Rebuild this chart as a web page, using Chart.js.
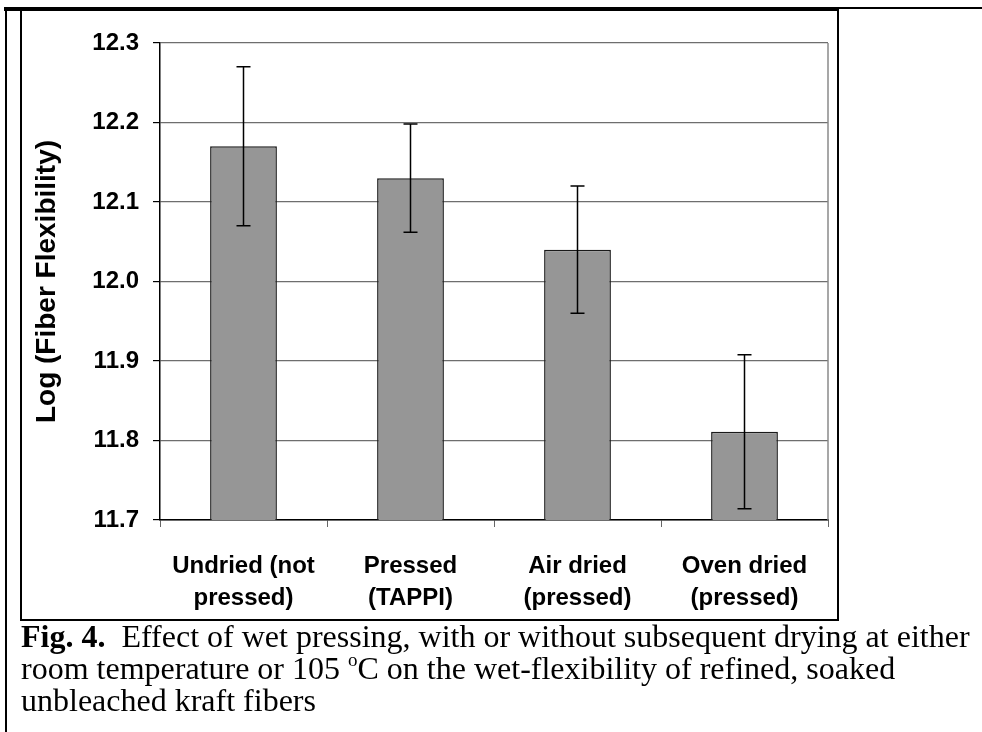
<!DOCTYPE html>
<html>
<head>
<meta charset="utf-8">
<script src="https://cdn.jsdelivr.net/npm/chart.js@4/dist/chart.umd.min.js"></script>
<style>
  html, body { margin: 0; padding: 0; background: #fff; }
  body { width: 982px; height: 732px; position: relative; overflow: hidden; }
  .ln { position: absolute; background: #000; }
  #wrap { position: absolute; left: 22px; top: 11px; width: 815px; height: 608px; }
  #caption {
    position: absolute; left: 21px; top: 620px; width: 960px;
    font-family: 'Liberation Serif', 'Times New Roman', serif;
    font-size: 32px; line-height: 32px; color: #000; white-space: nowrap;
  }
  #caption sup { font-size: 19px; line-height: 0; vertical-align: 0; position: relative; top: -13px; }
</style>
</head>
<body>
<!-- frame lines round the figure -->
<div class="ln" style="left:4px;top:7px;width:835px;height:4px"></div>
<div class="ln" style="left:837px;top:7px;width:145px;height:2px"></div>
<div class="ln" style="left:5px;top:7px;width:2px;height:725px"></div>
<div class="ln" style="left:20px;top:7px;width:2px;height:614px"></div>
<div class="ln" style="left:837px;top:7px;width:2px;height:614px"></div>
<div class="ln" style="left:20px;top:619px;width:819px;height:2px"></div>

<div id="wrap"><canvas id="chart"></canvas></div>

<div id="caption"><b>Fig. 4.</b>&nbsp; Effect of wet pressing, with or without subsequent drying at either<br>room temperature or 105 <sup>o</sup>C on the wet-flexibility of refined, soaked<br>unbleached kraft fibers</div>

<script>
// data
const categories = [
  ['Undried (not', 'pressed)'],
  ['Pressed', '(TAPPI)'],
  ['Air dried', '(pressed)'],
  ['Oven dried', '(pressed)']
]
const flexMeans = [12.17, 12.13, 12.04, 11.811]
const flexErrors = [0.10, 0.068, 0.08, 0.097]
const yTicks = [11.7, 11.8, 11.9, 12.0, 12.1, 12.2, 12.3]

Chart.defaults.font.family = "'Liberation Sans', Arial, sans-serif"
Chart.defaults.color = '#000'

// error bars, drawn through the y scale
const errorBars = {
  id: 'errorBars',
  afterDatasetsDraw(chart) {
    const { ctx, scales: { y } } = chart
    const meta = chart.getDatasetMeta(0)
    ctx.save()
    ctx.strokeStyle = '#000'
    ctx.lineWidth = 1.5
    meta.data.forEach((bar, i) => {
      const top = y.getPixelForValue(flexMeans[i] + flexErrors[i])
      const bot = y.getPixelForValue(flexMeans[i] - flexErrors[i])
      const x = bar.x
      ctx.beginPath()
      ctx.moveTo(x, top); ctx.lineTo(x, bot)
      ctx.moveTo(x - 7, top); ctx.lineTo(x + 7, top)
      ctx.moveTo(x - 7, bot); ctx.lineTo(x + 7, bot)
      ctx.stroke()
    })
    ctx.restore()
  }
}

// gray right edge of the plot area
const plotFrame = {
  id: 'plotFrame',
  beforeDatasetsDraw(chart) {
    const { ctx, chartArea: a } = chart
    ctx.save()
    ctx.strokeStyle = '#8a8a8a'
    ctx.lineWidth = 1.5
    ctx.beginPath()
    ctx.moveTo(a.right, a.top); ctx.lineTo(a.right, a.bottom)
    ctx.stroke()
    ctx.restore()
  }
}

new Chart(document.getElementById('chart'), {
  type: 'bar',
  data: {
    labels: categories,
    datasets: [{
      data: flexMeans,
      backgroundColor: '#969696',
      borderColor: '#1a1a1a',
      borderWidth: 1.5,
      categoryPercentage: 1,
      barPercentage: 0.4
    }]
  },
  options: {
    responsive: true,
    maintainAspectRatio: false,
    animation: false,
    layout: { padding: { top: 32, right: 9, left: 0, bottom: 0 } },
    plugins: { legend: { display: false }, tooltip: { enabled: false } },
    scales: {
      x: {
        offset: true,
        grid: { offset: true, drawOnChartArea: false, drawTicks: true, tickLength: 7, tickColor: '#666' },
        border: { color: '#000', width: 1.5 },
        ticks: { font: { size: 24, weight: 'bold', lineHeight: 1.33 }, padding: 23, maxRotation: 0 },
        afterFit: s => { s.height = 99 }
      },
      y: {
        min: 11.7,
        max: 12.3,
        afterBuildTicks: s => { s.ticks = yTicks.map(v => ({ value: v })) },
        grid: { color: '#6e6e6e', lineWidth: 1.2, tickLength: 7, tickColor: '#000' },
        border: { color: '#000', width: 1.5 },
        ticks: { font: { size: 24, weight: 'bold' }, padding: 14, callback: v => v.toFixed(1) },
        title: {
          display: true,
          text: 'Log (Fiber Flexibility)',
          font: { size: 28, weight: 'bold' },
          padding: { top: 8, bottom: 0 }
        },
        afterFit: s => { s.width = 138 }
      }
    }
  },
  plugins: [errorBars, plotFrame]
})
</script>
</body>
</html>
